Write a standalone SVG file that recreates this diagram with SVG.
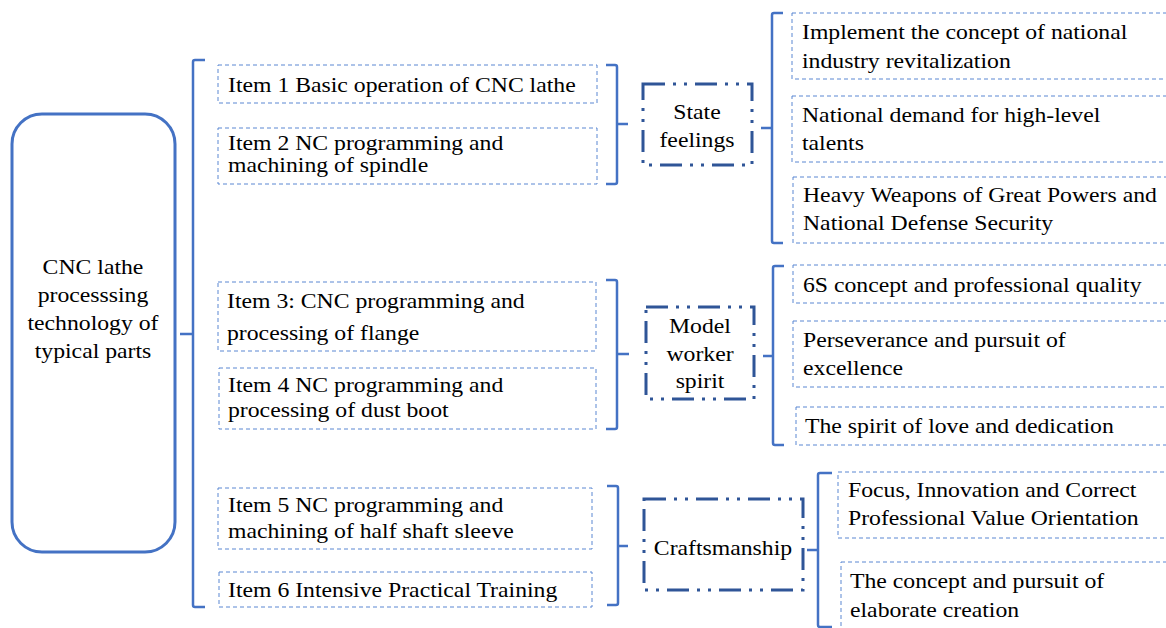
<svg xmlns="http://www.w3.org/2000/svg" width="1166" height="628" viewBox="0 0 1166 628">
<style>
text{font-family:'Liberation Serif','DejaVu Serif',serif;font-size:21px;fill:#000}
.c{text-anchor:middle}
.main{fill:#fff;stroke:#4472C4;stroke-width:3}
.dash{fill:#fff;stroke:#5B87D2;stroke-width:1;stroke-dasharray:4 3}
.dd{fill:#fff;stroke:#2F5597;stroke-width:3;stroke-dasharray:22 8 3 8 3 8}
.br{fill:none;stroke:#4472C4;stroke-width:2.5;stroke-linejoin:round}
</style>
<rect width="1166" height="628" fill="#fff"/>
<g id="connectors">
<path class="br" d="M205,60 H195 Q193,60 193,62 V605 Q193,607 195,607 H205 M193,334 H180"/>
<path class="br" d="M606,65 H615 Q617,65 617,67 V182 Q617,184 615,184 H606 M617,124 H628"/>
<path class="br" d="M606,280 H615 Q617,280 617,282 V427 Q617,429 615,429 H606 M617,354 H629"/>
<path class="br" d="M607,486 H616 Q618,486 618,488 V603 Q618,605 616,605 H607 M618,546 H628"/>
<path class="br" d="M783,13 H774 Q772,13 772,15 V241 Q772,243 774,243 H783 M772,128 H761"/>
<path class="br" d="M784,266 H775 Q773,266 773,268 V443 Q773,445 775,445 H784 M773,356 H763"/>
<path class="br" d="M832,473 H820 Q818,473 818,475 V625 Q818,627 820,627 H832 M818,550 H807"/>
</g>
<g id="main">
<rect class="main" x="12" y="114" width="163" height="438" rx="30"/>
<text class="c" transform="translate(93,0) scale(1.13,1)"><tspan x="0" y="274">CNC lathe</tspan><tspan x="0" y="302">processsing</tspan><tspan x="0" y="330">technology of</tspan><tspan x="0" y="358">typical parts</tspan></text>
</g>
<g id="item1">
<rect class="dash" x="218" y="65" width="379" height="38"/>
<text transform="translate(228,92) scale(1.13,1)">Item 1 Basic operation of CNC lathe</text>
</g>
<g id="item2">
<rect class="dash" x="218" y="128" width="379" height="56"/>
<text transform="translate(228,0) scale(1.13,1)"><tspan x="0" y="150">Item 2 NC programming and</tspan><tspan x="0" y="172">machining of spindle</tspan></text>
</g>
<g id="item3">
<rect class="dash" x="218" y="282" width="378" height="69"/>
<text transform="translate(227,0) scale(1.13,1)"><tspan x="0" y="308">Item 3: CNC programming and</tspan><tspan x="0" y="340">processing of flange</tspan></text>
</g>
<g id="item4">
<rect class="dash" x="219" y="368" width="377" height="61"/>
<text transform="translate(228,0) scale(1.13,1)"><tspan x="0" y="392">Item 4 NC programming and</tspan><tspan x="0" y="417">processing of dust boot</tspan></text>
</g>
<g id="item5">
<rect class="dash" x="218" y="488" width="374" height="61"/>
<text transform="translate(228,0) scale(1.13,1)"><tspan x="0" y="512">Item 5 NC programming and</tspan><tspan x="0" y="538">machining of half shaft sleeve</tspan></text>
</g>
<g id="item6">
<rect class="dash" x="219" y="572" width="373" height="35"/>
<text transform="translate(228,597) scale(1.13,1)">Item 6 Intensive Practical Training</text>
</g>
<g id="state-feelings">
<rect class="dd" x="643" y="84" width="109" height="81"/>
<text class="c" transform="translate(697,0) scale(1.13,1)"><tspan x="0" y="119">State</tspan><tspan x="0" y="147">feelings</tspan></text>
</g>
<g id="model-worker">
<rect class="dd" x="646" y="307" width="108" height="92"/>
<text class="c" transform="translate(700,0) scale(1.13,1)"><tspan x="0" y="333">Model</tspan><tspan x="0" y="361">worker</tspan><tspan x="0" y="388">spirit</tspan></text>
</g>
<g id="craftsmanship">
<rect class="dd" x="644" y="499" width="159" height="91"/>
<text class="c" transform="translate(723,555) scale(1.13,1)">Craftsmanship</text>
</g>
<g id="r1">
<rect class="dash" x="792" y="13" width="380" height="66"/>
<text transform="translate(802,0) scale(1.13,1)"><tspan x="0" y="39">Implement the concept of national</tspan><tspan x="0" y="68">industry revitalization</tspan></text>
</g>
<g id="r2">
<rect class="dash" x="792" y="96" width="380" height="66"/>
<text transform="translate(802,0) scale(1.13,1)"><tspan x="0" y="122">National demand for high-level</tspan><tspan x="0" y="150">talents</tspan></text>
</g>
<g id="r3">
<rect class="dash" x="793" y="177" width="380" height="66"/>
<text transform="translate(803,0) scale(1.13,1)"><tspan x="0" y="202">Heavy Weapons of Great Powers and</tspan><tspan x="0" y="230">National Defense Security</tspan></text>
</g>
<g id="r4">
<rect class="dash" x="793" y="265" width="380" height="38"/>
<text transform="translate(803,292) scale(1.13,1)">6S concept and professional quality</text>
</g>
<g id="r5">
<rect class="dash" x="793" y="321" width="380" height="66"/>
<text transform="translate(803,0) scale(1.13,1)"><tspan x="0" y="347">Perseverance and pursuit of</tspan><tspan x="0" y="375">excellence</tspan></text>
</g>
<g id="r6">
<rect class="dash" x="796" y="407" width="380" height="38"/>
<text transform="translate(805,433) scale(1.13,1)">The spirit of love and dedication</text>
</g>
<g id="r7">
<rect class="dash" x="838" y="472" width="340" height="66"/>
<text transform="translate(848,0) scale(1.13,1)"><tspan x="0" y="497">Focus, Innovation and Correct</tspan><tspan x="0" y="525">Professional Value Orientation</tspan></text>
</g>
<g id="r8">
<rect class="dash" x="841" y="562" width="340" height="70"/>
<text transform="translate(850,0) scale(1.13,1)"><tspan x="0" y="588">The concept and pursuit of</tspan><tspan x="0" y="617">elaborate creation</tspan></text>
</g>
</svg>
